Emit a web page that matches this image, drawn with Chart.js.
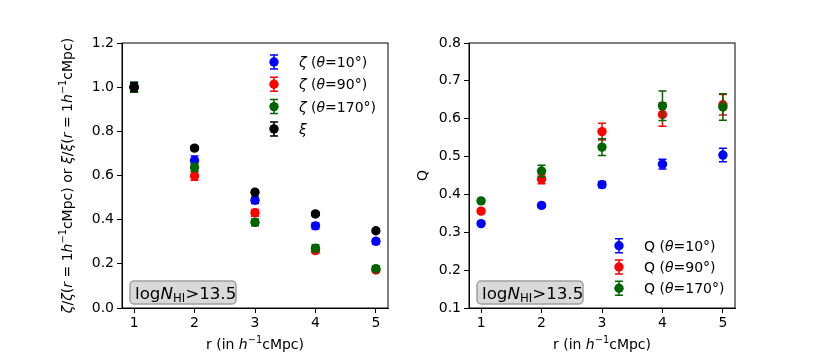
<!DOCTYPE html>
<html>
<head>
<meta charset="utf-8">
<script src="https://cdn.jsdelivr.net/npm/chart.js@4.4.1/dist/chart.umd.min.js"></script>
<style>
  body { margin: 0; background: #fff; }
  #wrap { position: relative; width: 817px; height: 363px; }
  canvas { position: absolute; top: 0; }
</style>
</head>
<body>
<div id="wrap">
  <canvas id="left" width="408" height="363" style="left:0"></canvas>
  <canvas id="right" width="409" height="363" style="left:408px"></canvas>
</div>
<script>
// data
const rVals = [1, 2, 3, 4, 5];
const xTicks = [1, 2, 3, 4, 5];

const zeta10 = [1.0, 0.668, 0.488, 0.372, 0.302];
const zeta10Err = [0.02, 0.02, 0.015, 0.013, 0.012];
const zeta90 = [1.0, 0.598, 0.431, 0.26, 0.172];
const zeta90Err = [0.02, 0.02, 0.015, 0.01, 0.01];
const zeta170 = [1.0, 0.636, 0.388, 0.271, 0.178];
const zeta170Err = [0.023, 0.018, 0.015, 0.015, 0.012];
const xiVals = [1.0, 0.724, 0.524, 0.426, 0.35];
const xiErr = [0.02, 0.01, 0.01, 0.008, 0.008];
const leftYTicks = [0.0, 0.2, 0.4, 0.6, 0.8, 1.0, 1.2];

const q10 = [0.323, 0.371, 0.426, 0.480, 0.504];
const q10Err = [0.004, 0.005, 0.008, 0.013, 0.018];
const q90 = [0.356, 0.440, 0.566, 0.611, 0.637];
const q90Err = [0.004, 0.012, 0.022, 0.031, 0.027];
const q170 = [0.383, 0.462, 0.525, 0.634, 0.631];
const q170Err = [0.004, 0.015, 0.022, 0.039, 0.035];
const rightYTicks = [0.1, 0.2, 0.3, 0.4, 0.5, 0.6, 0.7, 0.8];

const BLUE = '#0000ff', RED = '#ff0000', GREEN = '#006400', BLACK = '#000000';
const FONT = '"DejaVu Sans"';
const DOT = 4.7;

Chart.defaults.font.family = FONT;
Chart.defaults.font.size = 14;
Chart.defaults.color = '#000';

function pts(ys) { return rVals.map((x, i) => ({ x: x, y: ys[i] })); }

function ds(label, ys, err, color) {
  return {
    label: label, data: pts(ys), err: err,
    backgroundColor: color, borderColor: color,
    pointRadius: DOT, pointHoverRadius: DOT, pointBorderWidth: 0
  };
}

// mixed upright / italic / superscript text
function rich(ctx, segs, x, y, align, size) {
  size = size || 14;
  const small = size * 0.7;
  const f = s => (s.it ? 'italic ' : '') + (s.sup || s.sub ? small : size) + 'px ' + FONT;
  let w = 0;
  const ws = segs.map(s => { ctx.font = f(s); const m = ctx.measureText(s.t).width; w += m; return m; });
  let cx = align === 'center' ? x - w / 2 : x;
  ctx.textAlign = 'left';
  ctx.textBaseline = 'alphabetic';
  segs.forEach((s, i) => {
    ctx.font = f(s);
    ctx.fillText(s.t, cx, y + (s.sup ? -size * 0.43 : s.sub ? size * 0.2 : 0));
    cx += ws[i];
  });
}

function errBar(ctx, x, y1, y2, color) {
  ctx.strokeStyle = color;
  ctx.lineWidth = 1.5;
  ctx.beginPath();
  ctx.moveTo(x, y1); ctx.lineTo(x, y2);
  ctx.moveTo(x - 4, y1); ctx.lineTo(x + 4, y1);
  ctx.moveTo(x - 4, y2); ctx.lineTo(x + 4, y2);
  ctx.stroke();
}

const xTitle = [{ t: 'r (in ' }, { t: 'h', it: 1 }, { t: '\u22121', sup: 1 }, { t: 'cMpc)' }];
const boxText = [{ t: 'log' }, { t: 'N', it: 1 }, { t: 'HI', sub: 1 }, { t: '>13.5' }];

const deco = {
  id: 'deco',
  beforeDatasetDraw(chart, args) {
    const ctx = chart.ctx, y = chart.scales.y, d = chart.data.datasets[args.index];
    ctx.save();
    args.meta.data.forEach((p, i) => {
      const v = d.data[i].y, e = d.err[i];
      errBar(ctx, p.x, y.getPixelForValue(v + e), y.getPixelForValue(v - e), d.borderColor);
    });
    ctx.restore();
  },
  afterDraw(chart, args, o) {
    const ctx = chart.ctx, a = chart.chartArea;
    ctx.save();
    // frame
    ctx.strokeStyle = '#000';
    ctx.lineWidth = 1;
    ctx.strokeRect(a.left, a.top, a.right - a.left, a.bottom - a.top);
    ctx.fillStyle = '#000';
    // axis titles
    rich(ctx, xTitle, (a.left + a.right) / 2, 349, 'center');
    ctx.save();
    ctx.translate(a.left + o.yTitleDx, (a.top + a.bottom) / 2);
    ctx.rotate(-Math.PI / 2);
    ctx.fillStyle = '#000';
    rich(ctx, o.yTitle, 0, 0, 'center');
    ctx.restore();
    // legend
    o.legend.forEach((it, i) => {
      const mx = a.right - o.legendDx, my = o.legendY + i * o.legendGap;
      errBar(ctx, mx, my - 7, my + 7, it.color);
      ctx.fillStyle = it.color;
      ctx.beginPath(); ctx.arc(mx, my, DOT, 0, Math.PI * 2); ctx.fill();
      ctx.fillStyle = '#000';
      rich(ctx, it.text, mx + 25, my + 5, 'left');
    });
    // text box
    const bx = a.left + 8, by = a.bottom - 27;
    ctx.fillStyle = '#d9d9d9';
    ctx.strokeStyle = '#a0a0a0';
    ctx.beginPath();
    ctx.roundRect(bx, by, 106, 23, 4);
    ctx.fill(); ctx.stroke();
    ctx.fillStyle = '#000';
    rich(ctx, boxText, bx + 5, by + 17.5, 'left', 16.7);
    ctx.restore();
  }
};

function scales(yTicks, ymin, ymax, yWidth) {
  const grid = { display: true, drawOnChartArea: false, drawTicks: true, tickLength: 5, color: '#000', tickColor: '#000' };
  return {
    x: {
      type: 'linear', min: 0.8, max: 5.2,
      afterBuildTicks: s => { s.ticks = xTicks.map(v => ({ value: v })); },
      afterFit: s => { s.height = 55; s.paddingLeft = 0; s.paddingRight = 0; },
      ticks: { padding: 2, maxRotation: 0, callback: v => String(v) },
      grid: grid, border: { display: true, color: '#000', width: 1 }
    },
    y: {
      type: 'linear', min: ymin, max: ymax,
      afterBuildTicks: s => { s.ticks = yTicks.map(v => ({ value: v })); },
      afterFit: s => { s.width = yWidth; s.paddingTop = 0; s.paddingBottom = 0; },
      ticks: { padding: 3, callback: v => v.toFixed(1) },
      grid: grid, border: { display: true, color: '#000', width: 1 }
    }
  };
}

new Chart(document.getElementById('left'), {
  type: 'scatter',
  data: {
    datasets: [
      Object.assign(ds('zeta 10', zeta10, zeta10Err, BLUE), { order: 4 }),
      Object.assign(ds('zeta 90', zeta90, zeta90Err, RED), { order: 3 }),
      Object.assign(ds('zeta 170', zeta170, zeta170Err, GREEN), { order: 2 }),
      Object.assign(ds('xi', xiVals, xiErr, BLACK), { order: 1 })
    ]
  },
  options: {
    responsive: false, animation: false, events: [],
    layout: { padding: { top: 43, right: 20, left: 0, bottom: 0 } },
    scales: scales(leftYTicks, 0, 1.2, 122),
    plugins: {
      legend: { display: false }, tooltip: { enabled: false },
      deco: {
        yTitleDx: -50,
        yTitle: [
          { t: '\u03b6', it: 1 }, { t: '/' }, { t: '\u03b6', it: 1 }, { t: '(' }, { t: 'r', it: 1 }, { t: ' = 1' },
          { t: 'h', it: 1 }, { t: '\u22121', sup: 1 }, { t: 'cMpc) or ' },
          { t: '\u03be', it: 1 }, { t: '/' }, { t: '\u03be', it: 1 }, { t: '(' }, { t: 'r', it: 1 }, { t: ' = 1' },
          { t: 'h', it: 1 }, { t: '\u22121', sup: 1 }, { t: 'cMpc)' }
        ],
        legendDx: 114, legendY: 62, legendGap: 22.3,
        legend: [
          { color: BLUE, text: [{ t: '\u03b6', it: 1 }, { t: ' (' }, { t: '\u03b8', it: 1 }, { t: '=10\u00b0)' }] },
          { color: RED, text: [{ t: '\u03b6', it: 1 }, { t: ' (' }, { t: '\u03b8', it: 1 }, { t: '=90\u00b0)' }] },
          { color: GREEN, text: [{ t: '\u03b6', it: 1 }, { t: ' (' }, { t: '\u03b8', it: 1 }, { t: '=170\u00b0)' }] },
          { color: BLACK, text: [{ t: '\u03be', it: 1 }] }
        ]
      }
    }
  },
  plugins: [deco]
});

new Chart(document.getElementById('right'), {
  type: 'scatter',
  data: {
    datasets: [
      Object.assign(ds('Q 10', q10, q10Err, BLUE), { order: 3 }),
      Object.assign(ds('Q 90', q90, q90Err, RED), { order: 2 }),
      Object.assign(ds('Q 170', q170, q170Err, GREEN), { order: 1 })
    ]
  },
  options: {
    responsive: false, animation: false, events: [],
    layout: { padding: { top: 43, right: 82, left: 0, bottom: 0 } },
    scales: scales(rightYTicks, 0.1, 0.8, 61),
    plugins: {
      legend: { display: false }, tooltip: { enabled: false },
      deco: {
        yTitleDx: -42,
        yTitle: [{ t: 'Q' }],
        legendDx: 116, legendY: 245.7, legendGap: 21.3,
        legend: [
          { color: BLUE, text: [{ t: 'Q (' }, { t: '\u03b8', it: 1 }, { t: '=10\u00b0)' }] },
          { color: RED, text: [{ t: 'Q (' }, { t: '\u03b8', it: 1 }, { t: '=90\u00b0)' }] },
          { color: GREEN, text: [{ t: 'Q (' }, { t: '\u03b8', it: 1 }, { t: '=170\u00b0)' }] }
        ]
      }
    }
  },
  plugins: [deco]
});
</script>
</body>
</html>
